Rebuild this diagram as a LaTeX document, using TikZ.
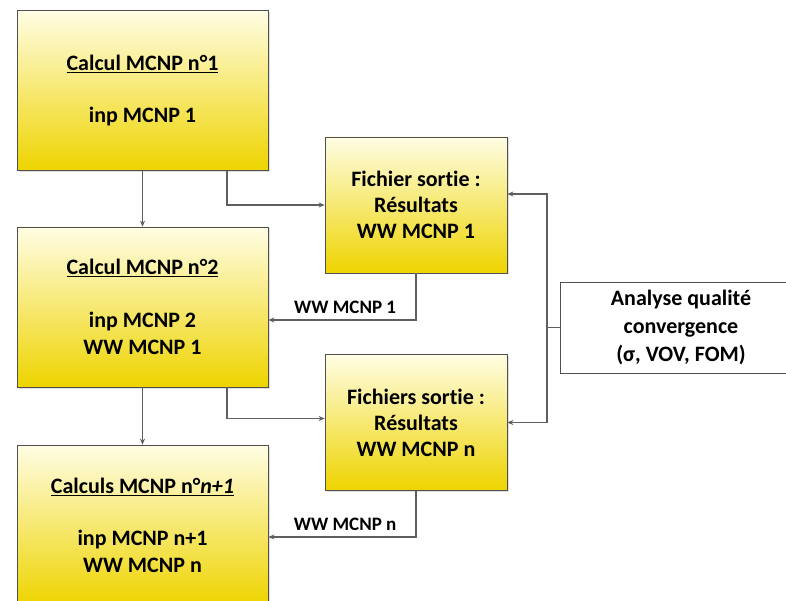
\documentclass[tikz,border=0pt]{standalone}
\usepackage{fontspec}
\setmainfont[Ligatures=NoCommon]{Carlito}
\usetikzlibrary{arrows.meta,shadows}
\definecolor{ytop}{RGB}{255,253,228}
\definecolor{ybot}{RGB}{238,212,0}
\definecolor{edge}{RGB}{80,80,80}
\definecolor{conn}{RGB}{95,95,95}
\tikzset{
  ybox/.style={draw=edge, line width=0.7pt, top color=ytop, bottom color=ybot,
    align=center, inner sep=0pt,
    drop shadow={opacity=0.25, shadow xshift=1.5pt, shadow yshift=-1.5pt}},
  calcbox/.style={ybox, minimum width=251pt, minimum height=160pt,
    font=\bfseries\fontsize{22}{27}\selectfont},
  filebox/.style={ybox, minimum width=182pt, minimum height=136pt,
    font=\bfseries\fontsize{22}{26}\selectfont},
  anbox/.style={draw=edge, line width=0.7pt, fill=white, align=center, inner sep=0pt,
    minimum width=242pt, minimum height=91pt, font=\bfseries\fontsize{22}{28}\selectfont},
  arr/.style={draw=conn, line width=1.3pt, -{Stealth[length=6pt,width=5pt]}},
  lnk/.style={draw=conn, line width=1.3pt},
  lab/.style={font=\bfseries\fontsize{19}{22}\selectfont, inner sep=0pt}
}
\newcommand{\ttl}[1]{\underline{#1}}
\begin{document}
\begin{tikzpicture}[x=1pt,y=-1pt]
\useasboundingbox (0,0) rectangle (786,601);
\clip (0,0) rectangle (786,601);
\fill[white] (0,0) rectangle (786,601);
\node[calcbox] (b1) at (142.5,90.5) {\ttl{Calcul MCNP n°1}\\[25pt]inp MCNP 1};
\node[calcbox] (b2) at (142.5,307) {\ttl{Calcul MCNP n°2}\\[26pt]inp MCNP 2\\WW MCNP 1};
\node[calcbox] (b3) at (142.5,525) {\ttl{Calculs MCNP n°\textit{n+1}}\\[25pt]inp MCNP n+1\\WW MCNP n};
\node[filebox] (f1) at (416,205) {Fichier sortie :\\Résultats\\WW MCNP 1};
\node[filebox] (f2) at (416,422.5) {Fichiers sortie :\\Résultats\\WW MCNP n};
\node[anbox] (an) at (681,327.5) {Analyse qualité\\convergence\\(σ, VOV, FOM)};
\coordinate (j) at (547,327.5);
\draw[arr] (b1.south) -- (b2.north);
\draw[arr] (b2.south) -- (b3.north);
\draw[arr] ([xshift=84.5pt]b1.south) |- (f1.west);
\draw[arr] ([xshift=84.5pt]b2.south) |- ([yshift=4pt]f2.west);
\draw[arr] (f1.south) |- ([yshift=-13pt]b2.east) node[lab, pos=0.74, above=6pt] {WW MCNP 1};
\draw[arr] (f2.south) |- ([yshift=-12pt]b3.east) node[lab, pos=0.74, above=6pt] {WW MCNP n};
\draw[lnk] (an.west) -- (j);
\draw[arr] (j) |- ([yshift=11pt]f1.east);
\draw[arr] (j) |- (f2.east);
\end{tikzpicture}
\end{document}
